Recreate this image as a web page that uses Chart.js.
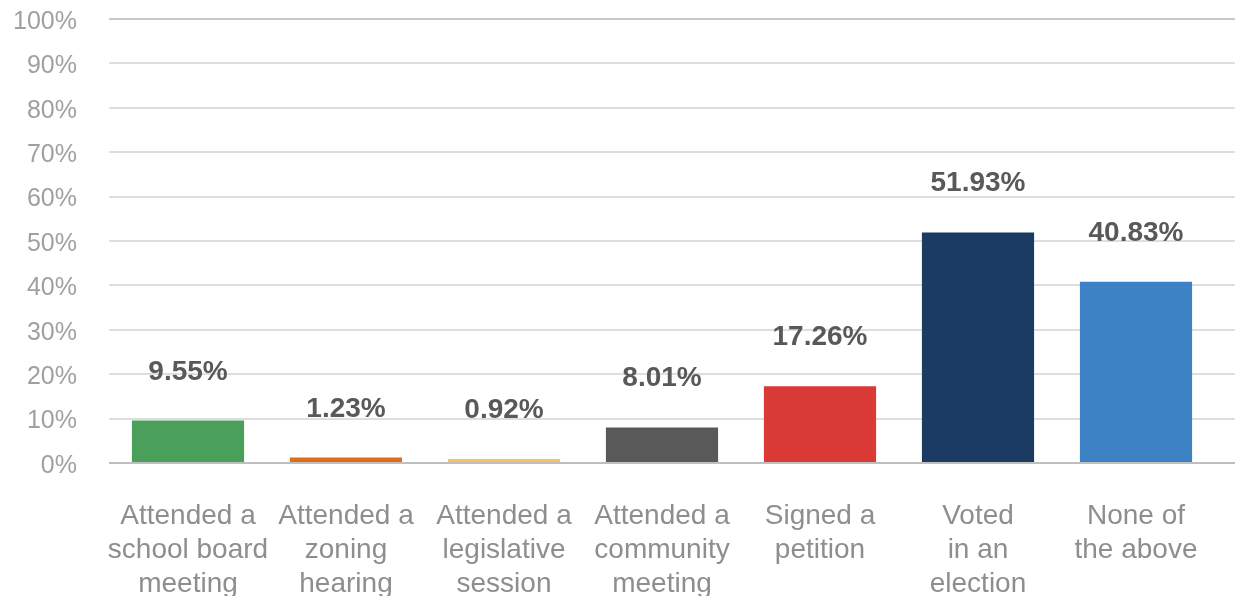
<!DOCTYPE html>
<html>
<head>
<meta charset="utf-8">
<script src="https://cdn.jsdelivr.net/npm/chart.js@4"></script>
<style>
    html, body { margin: 0; padding: 0; background: #fff; }
    #wrap { width: 1235px; height: 596px; }
</style>
</head>
<body>
<div id="wrap"><canvas id="activityChart" width="1235" height="596"></canvas></div>
<script>
const categories = [
    ['Attended a', 'school board', 'meeting'],
    ['Attended a', 'zoning', 'hearing'],
    ['Attended a', 'legislative', 'session'],
    ['Attended a', 'community', 'meeting'],
    ['Signed a', 'petition'],
    ['Voted', 'in an', 'election'],
    ['None of', 'the above']
];
const shares = [9.55, 1.23, 0.92, 8.01, 17.26, 51.93, 40.83];
const barColors = ['#4aa05a', '#e06d1c', '#f2c55c', '#595959', '#d93a35', '#1b3b63', '#3d82c4'];
const yTicks = [0, 10, 20, 30, 40, 50, 60, 70, 80, 90, 100];

const fontFamily = '"Liberation Sans", Arial, sans-serif';

function gridColor(v) {
    if (v === 0) return '#bfbfbf';
    if (v === 100) return '#c8c8c8';
    return '#dedede';
}

// value labels above bars + gridlines running to the right edge
const extrasPlugin = {
    id: 'extras',
    beforeDatasetsDraw(chart) {
        const { ctx, chartArea, scales } = chart;
        ctx.save();
        yTicks.forEach(v => {
            const y = Math.round(scales.y.getPixelForValue(v));
            ctx.strokeStyle = gridColor(v);
            ctx.lineWidth = 2;
            ctx.beginPath();
            ctx.moveTo(chartArea.right, y);
            ctx.lineTo(chart.width, y);
            ctx.stroke();
        });
        ctx.restore();
    },
    afterDatasetsDraw(chart) {
        const { ctx } = chart;
        const meta = chart.getDatasetMeta(0);
        ctx.save();
        ctx.font = 'bold 28px ' + fontFamily;
        ctx.fillStyle = '#595959';
        ctx.textAlign = 'center';
        ctx.textBaseline = 'alphabetic';
        meta.data.forEach((bar, i) => {
            ctx.fillText(shares[i].toFixed(2) + '%', bar.x, bar.y - 41);
        });
        ctx.restore();
    }
};

new Chart(document.getElementById('activityChart'), {
    type: 'bar',
    data: {
        labels: categories,
        datasets: [{
            data: shares,
            backgroundColor: barColors,
            borderWidth: 0,
            categoryPercentage: 1,
            barPercentage: 0.71
        }]
    },
    options: {
        responsive: false,
        animation: false,
        layout: { padding: { top: 19, right: 20, bottom: 0, left: 0 } },
        plugins: {
            legend: { display: false },
            tooltip: { enabled: false }
        },
        scales: {
            x: {
                grid: { display: false, drawTicks: false },
                border: { display: false },
                ticks: {
                    color: '#8e8e8e',
                    padding: 36,
                    maxRotation: 0,
                    autoSkip: false,
                    font: { family: fontFamily, size: 28, lineHeight: 1.215 }
                },
                afterFit(scale) {
                    scale.height = 133;
                    scale.paddingLeft = 0;
                    scale.paddingRight = 0;
                }
            },
            y: {
                min: 0,
                max: 100,
                afterBuildTicks(scale) { scale.ticks = yTicks.map(v => ({ value: v })); },
                grid: {
                    drawTicks: false,
                    lineWidth: 2,
                    color: ctx => gridColor(ctx.tick.value)
                },
                border: { display: false },
                ticks: {
                    color: '#a0a0a0',
                    padding: 32,
                    labelOffset: 3,
                    font: { family: fontFamily, size: 25 },
                    callback: v => v + '%'
                },
                afterFit(scale) {
                    scale.width = 109;
                    scale.paddingTop = 0;
                    scale.paddingBottom = 0;
                }
            }
        }
    },
    plugins: [extrasPlugin]
});
</script>
</body>
</html>
